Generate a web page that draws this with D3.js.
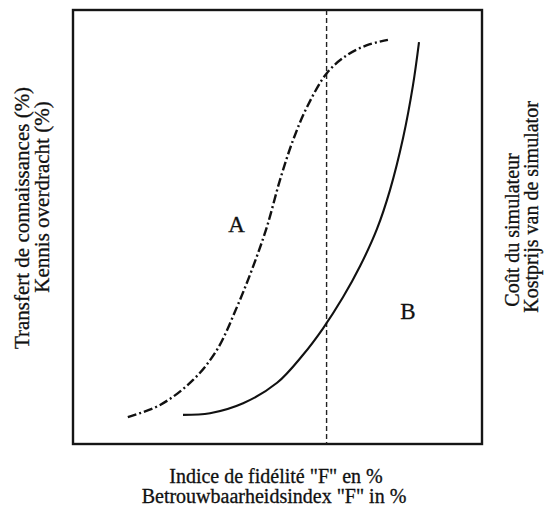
<!DOCTYPE html>
<html>
<head>
<meta charset="utf-8">
<script src="https://cdn.jsdelivr.net/npm/d3@7"></script>
<style>
  body { margin: 0; background: #fff; }
  text { font-family: "Liberation Serif", "Times New Roman", serif; fill: #111; stroke: #111; stroke-width: 0.3; }
</style>
</head>
<body>
<script>
// curve A : transfert de connaissances (dash-dot)
const curveA_x = [13.4, 21.3, 29.3, 35.2, 40.1, 44.0, 47.4, 50.6, 53.8, 57.2, 62.1, 67.0, 71.9, 77.0]
const curveA_y = [6.2, 9.0, 14.7, 21.7, 31.6, 40.8, 50.0, 60.8, 70.0, 77.6, 85.5, 89.6, 91.9, 93.1]
// curve B : cout du simulateur (solid)
const curveB_x = [26.9, 33.5, 41.6, 49.9, 56.2, 61.1, 66.0, 70.2, 74.3, 77.5, 80.7, 83.1, 84.6]
const curveB_y = [6.7, 7.1, 9.4, 14.1, 20.5, 26.6, 33.8, 41.0, 49.5, 58.5, 70.5, 82.5, 92.6]
const fidelityMark = 62
const curveLabels = [
  { name: 'A', x: 40.0, y: 50.0 },
  { name: 'B', x: 81.9, y: 30.0 }
]
const leftTitle = ['Transfert de connaissances (%)', 'Kennis overdracht (%)']
const rightTitle = ['Coût du simulateur', 'Kostprijs van de simulator']
const bottomTitle = ['Indice de fidélité "F" en %', 'Betrouwbaarheidsindex "F" in %']

const width = 545
const height = 509
const box = { left: 73, right: 482, top: 10, bottom: 444 }

const svg = d3.select('body').append('svg')
  .attr('width', width)
  .attr('height', height)

const x = d3.scaleLinear().domain([0, 100]).range([box.left, box.right])
const y = d3.scaleLinear().domain([0, 100]).range([box.bottom, box.top])

const line = d3.line()
  .x(d => x(d[0]))
  .y(d => y(d[1]))
  .curve(d3.curveCatmullRom.alpha(0.5))

// frame
svg.append('rect')
  .attr('x', box.left)
  .attr('y', box.top)
  .attr('width', box.right - box.left)
  .attr('height', box.bottom - box.top)
  .style('fill', 'none')
  .style('stroke', '#151515')
  .style('stroke-width', 2.4)

// vertical dashed line
svg.append('line')
  .attr('x1', x(fidelityMark))
  .attr('x2', x(fidelityMark))
  .attr('y1', y(100))
  .attr('y2', y(0))
  .style('stroke', '#222')
  .style('stroke-width', 1.4)
  .style('stroke-dasharray', '5,3')

svg.append('path')
  .datum(d3.zip(curveA_x, curveA_y))
  .attr('d', line)
  .style('fill', 'none')
  .style('stroke', '#111')
  .style('stroke-width', 2.4)
  .style('stroke-dasharray', '9,3,2,3')

svg.append('path')
  .datum(d3.zip(curveB_x, curveB_y))
  .attr('d', line)
  .style('fill', 'none')
  .style('stroke', '#111')
  .style('stroke-width', 2.1)

svg.selectAll('.curve-label')
  .data(curveLabels)
  .enter().append('text')
  .attr('class', 'curve-label')
  .attr('x', d => x(d.x))
  .attr('y', d => y(d.y))
  .attr('text-anchor', 'middle')
  .attr('dominant-baseline', 'middle')
  .style('font-size', '23px')
  .text(d => d.name)

// left titles
svg.append('text')
  .attr('transform', 'translate(29,218) rotate(-90)')
  .attr('text-anchor', 'middle')
  .style('font-size', '21px')
  .text(leftTitle[0])
svg.append('text')
  .attr('transform', 'translate(49,197) rotate(-90)')
  .attr('text-anchor', 'middle')
  .style('font-size', '21px')
  .text(leftTitle[1])

// right titles
svg.append('text')
  .attr('transform', 'translate(519,230) rotate(-90)')
  .attr('text-anchor', 'middle')
  .style('font-size', '20px')
  .text(rightTitle[0])
svg.append('text')
  .attr('transform', 'translate(538,207) rotate(-90)')
  .attr('text-anchor', 'middle')
  .style('font-size', '20px')
  .text(rightTitle[1])

// bottom titles
svg.append('text')
  .attr('x', 276)
  .attr('y', 483)
  .attr('text-anchor', 'middle')
  .style('font-size', '20px')
  .text(bottomTitle[0])
svg.append('text')
  .attr('x', 274)
  .attr('y', 503)
  .attr('text-anchor', 'middle')
  .style('font-size', '20px')
  .text(bottomTitle[1])
</script>
</body>
</html>
